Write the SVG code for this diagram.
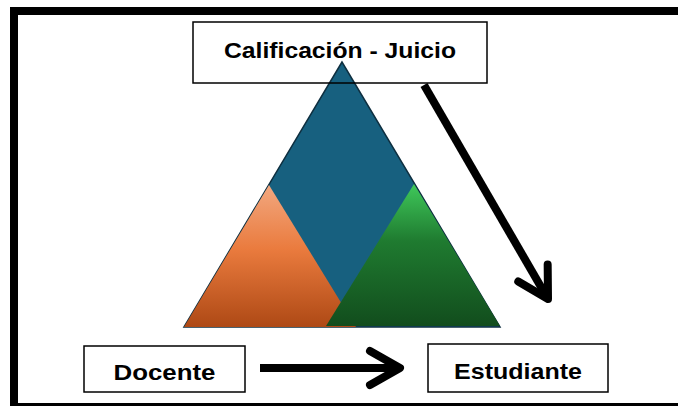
<svg xmlns="http://www.w3.org/2000/svg" width="678" height="406" viewBox="0 0 678 406">
  <defs>
    <linearGradient id="gOrange" x1="0" y1="0" x2="0" y2="1">
      <stop offset="0" stop-color="#F2A880"/>
      <stop offset="0.45" stop-color="#EA7B3E"/>
      <stop offset="1" stop-color="#AE4915"/>
    </linearGradient>
    <linearGradient id="gGreen" x1="0" y1="0" x2="0" y2="1">
      <stop offset="0" stop-color="#3FC85A"/>
      <stop offset="0.4" stop-color="#1F7B30"/>
      <stop offset="1" stop-color="#124D1D"/>
    </linearGradient>
    <marker id="ah" markerUnits="userSpaceOnUse" orient="auto" overflow="visible" markerWidth="1" markerHeight="1" refX="0" refY="0">
      <path d="M -30,-17 L 0,0 L -30,17" fill="none" stroke="#000" stroke-width="8" stroke-linecap="round" stroke-linejoin="round"/>
    </marker>
  </defs>
  <style>
    .box { fill: none; stroke: #000; stroke-width: 1.5; }
    .lbl { font-family: "Liberation Sans", Arial, sans-serif; font-weight: bold; font-size: 22px; fill: #000; text-anchor: middle; }
    .conn { fill: none; stroke: #000; stroke-width: 8; marker-end: url(#ah); }
  </style>
  <rect x="0" y="0" width="678" height="406" fill="#fff"/>
  <rect id="frame" x="14" y="11" width="672" height="396" fill="none" stroke="#000" stroke-width="8"/>

  <g id="triangle">
    <polygon points="342,62 184,327 500,327" fill="#17607F" stroke="#0E2F40" stroke-width="1.5"/>
    <polygon points="269,185 184,327 356,327" fill="url(#gOrange)"/>
    <polygon points="414,184 326,326 500,326" fill="url(#gGreen)"/>
  </g>

  <g id="calificacion">
    <rect class="box" x="193" y="22" width="294" height="61"/>
    <text class="lbl" x="340" y="58" textLength="232" lengthAdjust="spacingAndGlyphs">Calificación - Juicio</text>
  </g>

  <g id="docente">
    <rect class="box" x="84" y="346" width="161" height="46"/>
    <text class="lbl" x="164.5" y="380" textLength="102" lengthAdjust="spacingAndGlyphs">Docente</text>
  </g>

  <g id="estudiante">
    <rect class="box" x="428" y="344" width="180" height="48"/>
    <text class="lbl" x="518" y="379" textLength="128" lengthAdjust="spacingAndGlyphs">Estudiante</text>
  </g>

  <g id="connectors">
    <line class="conn" x1="260" y1="368" x2="400" y2="368"/>
    <line class="conn" x1="424" y1="85" x2="548" y2="299"/>
  </g>
</svg>
